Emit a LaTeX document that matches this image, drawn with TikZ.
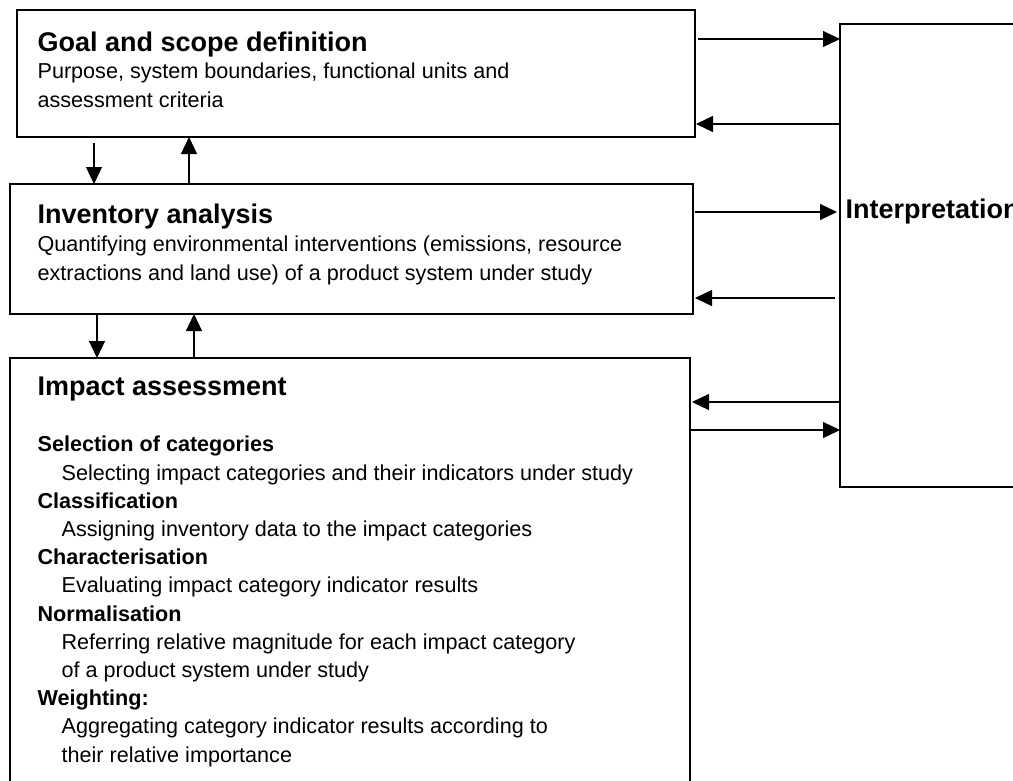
\documentclass[tikz,border=0pt]{standalone}
\usepackage{fontspec}
\setmainfont{Liberation Sans}
\usetikzlibrary{positioning}
\usetikzlibrary{arrows.meta}
\tikzset{>={Triangle[width=16pt,length=17pt]}}

\begin{document}
\begin{tikzpicture}[x=1pt, y=-1pt, line width=1.2pt, box/.style={draw=black, line width=1.2pt, inner sep=0pt, outer sep=0pt}, title/.style={font=\fontsize{27}{32}\selectfont\bfseries, inner sep=0pt, anchor=base west}, body/.style={font=\fontsize{21.6}{28.2}\selectfont, inner sep=0pt, align=left, anchor=base west}]

    \useasboundingbox (0,0) rectangle (1013,780);

    %Boxes
    \node[box, minimum width=678pt, minimum height=127pt](goal) at (356,73.5){};
    \node[box, minimum width=683pt, minimum height=130pt](inventory) at (351.5,249){};
    \node[box, minimum width=680pt, minimum height=424pt](impact) at (350,570){};
    \node[box, minimum width=190pt, minimum height=463pt](interp) at (935,255.5){};

    %Texts (body nodes sit on their last line)
    \node[title](goal_title) at (37,51){Goal and scope definition};
    \node[body](goal_text) at (37,107){Purpose, system boundaries, functional units and\\assessment criteria};
    \node[title](inventory_title) at (37,223){Inventory analysis};
    \node[body](inventory_text) at (37,280){Quantifying environmental interventions (emissions, resource\\extractions and land use) of a product system under study};
    \node[title](impact_title) at (37,395){Impact assessment};
    \node[body](impact_text) at (37,762){\textbf{Selection of categories}\\
        \hspace*{24pt}Selecting impact categories and their indicators under study\\
        \textbf{Classification}\\
        \hspace*{24pt}Assigning inventory data to the impact categories\\
        \textbf{Characterisation}\\
        \hspace*{24pt}Evaluating impact category indicator results\\
        \textbf{Normalisation}\\
        \hspace*{24pt}Referring relative magnitude for each impact category\\
        \hspace*{24pt}of a product system under study\\
        \textbf{Weighting:}\\
        \hspace*{24pt}Aggregating category indicator results according to\\
        \hspace*{24pt}their relative importance};
    \node[title](interp_title) at (845,218){Interpretation};

    %Coordinates on the interpretation side
    \coordinate (gap) at (835,298);

    %Lines
    \draw[->] (94,143) coordinate (g1) -- (g1 |- inventory.north);
    \draw[->] (189,183) coordinate (g2) -- (g2 |- goal.south);
    \draw[->] (97,314) coordinate (i1) -- (i1 |- impact.north);
    \draw[->] (194,358) coordinate (i2) -- (i2 |- inventory.south);
    \draw[->] ([xshift=3pt]goal.east |- 0,39) -- (interp.west |- 0,39);
    \draw[->] (interp.west |- 0,124) -- ([xshift=1pt]goal.east |- 0,124);
    \draw[->] ([xshift=2pt]inventory.east |- 0,212) -- ([xshift=-3pt]interp.west |- 0,212);
    \draw[->] (gap) -- ([xshift=2pt]inventory.east |- gap);
    \draw[->] (interp.west |- 0,402) -- ([xshift=2pt]impact.east |- 0,402);
    \draw[->] (impact.east |- 0,430) -- (interp.west |- 0,430);

\end{tikzpicture}
\end{document}
